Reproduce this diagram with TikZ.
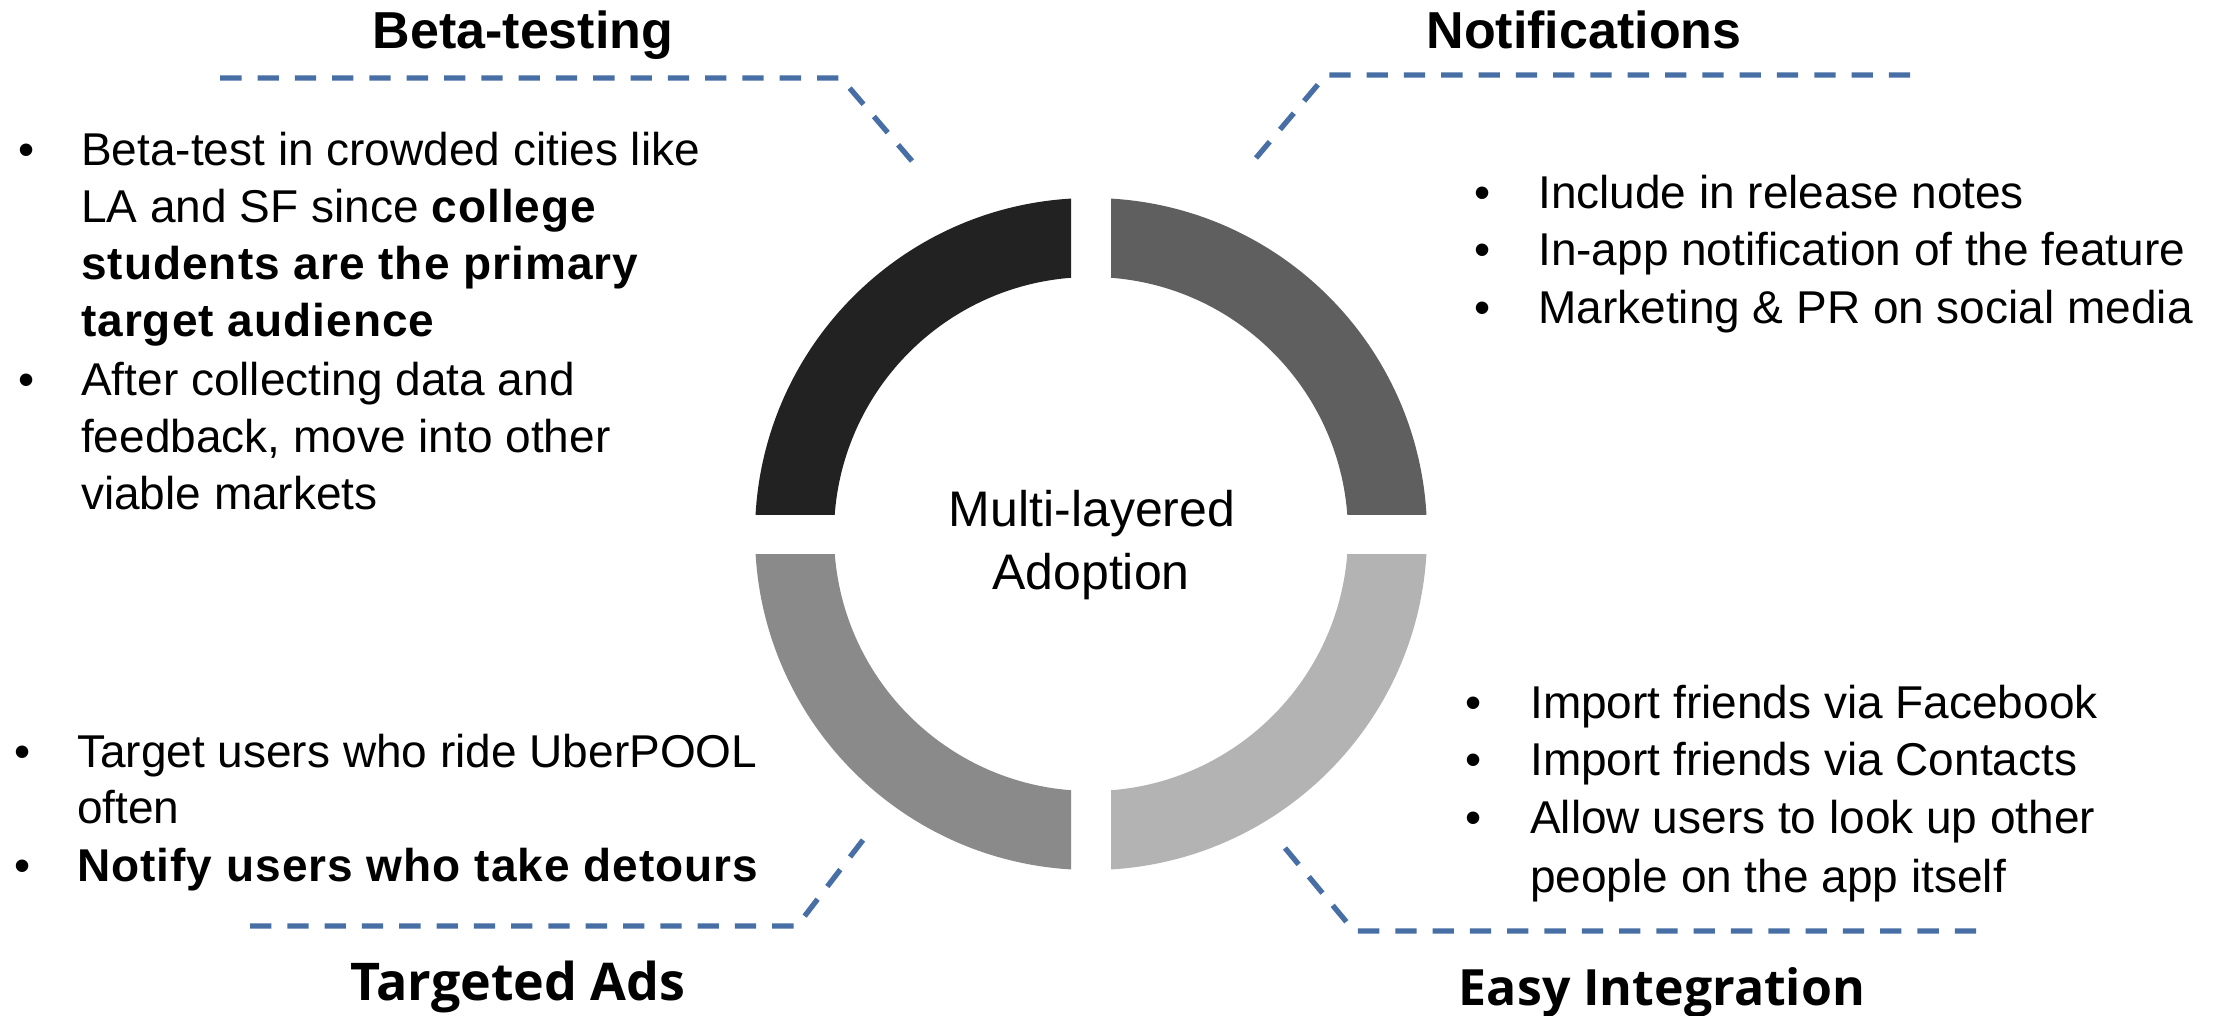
\documentclass[tikz,border=0pt]{standalone}
\usepackage{fontspec}
\setmainfont{Liberation Sans}
\newfontfamily\hdfont{Open Sans}
\newfontfamily\bsp{Liberation Sans}[LetterSpace=2.2]
\newcommand{\bt}[1]{{\bsp\bfseries #1}}
\definecolor{leadblue}{RGB}{71,111,166}
\definecolor{segA}{HTML}{222222}
\definecolor{segB}{HTML}{5F5F5F}
\definecolor{segC}{HTML}{8A8A8A}
\definecolor{segD}{HTML}{B3B3B3}
\begin{document}
\begin{tikzpicture}[x=1pt,y=-1pt,
  body/.style={anchor=base west, inner sep=0pt, font=\fontsize{46}{57}\selectfont},
  bul/.style={anchor=base, inner sep=0pt, font=\fontsize{46}{57}\selectfont},
  head/.style={anchor=base, inner sep=0pt, font=\fontsize{52}{60}\selectfont\bfseries},
  headb/.style={anchor=base, inner sep=0pt, font=\fontsize{52}{60}\selectfont\hdfont\bfseries},
  centre/.style={anchor=base, inner sep=0pt, font=\fontsize{50}{63}\selectfont},
  leader/.style={draw=leadblue, line width=5.3pt, dash pattern=on 21.3pt off 16pt},
]
\useasboundingbox (0,0) rectangle (2223,1015);
\fill[white] (0,0) rectangle (2223,1015);

% ring
\coordinate (ctr) at (1091,534);
\begin{scope}
  \clip (0,0) rectangle (1071,514);
  \fill[segA, even odd rule] (ctr) circle[radius=336] (ctr) circle[radius=257];
\end{scope}
\begin{scope}
  \clip (1111,0) rectangle (2223,514);
  \fill[segB, even odd rule] (ctr) circle[radius=336] (ctr) circle[radius=257];
\end{scope}
\begin{scope}
  \clip (0,554) rectangle (1071,1015);
  \fill[segC, even odd rule] (ctr) circle[radius=336] (ctr) circle[radius=257];
\end{scope}
\begin{scope}
  \clip (1111,554) rectangle (2223,1015);
  \fill[segD, even odd rule] (ctr) circle[radius=336] (ctr) circle[radius=257];
\end{scope}

% centre text
\node[centre] (c1) at (1092,526) {Multi-layered};
\node[centre] (c2) at (1091,589) {Adoption};

% headers
\node[head] (hbeta) at (523,48) {Beta-testing};
\node[head] (hnotif) at (1584,48) {Notifications};
\node[headb] (hads) at (518,1000) {Targeted Ads};
\node[headb, font=\fontsize{50}{60}\selectfont\hdfont\bfseries] (heasy) at (1662,1005) {Easy Integration};

% leader lines
\coordinate (b1) at (912,161); \coordinate (b2) at (841,78); \coordinate (b3) at (219,78);
\coordinate (n1) at (1256,158); \coordinate (n2) at (1326,75); \coordinate (n3) at (1924,75);
\coordinate (t1) at (863,840); \coordinate (t2) at (797,926); \coordinate (t3) at (249,926);
\coordinate (e1) at (1285,848); \coordinate (e2) at (1354,931); \coordinate (e3) at (1977,931);
\draw[leader] (b1) -- (b2) -- (b3);
\draw[leader] (n1) -- (n2) -- (n3);
\draw[leader] (t1) -- (t2) -- (t3);
\draw[leader] (e1) -- (e2) -- (e3);

% Beta-testing block
\node[bul] (bb1) at (27,165) {•};
\node[body] (bl1) at (81,165) {Beta-test in crowded cities like};
\node[body] (bl2) at (81,222) {LA and SF since \bt{college}};
\node[body] (bl3) at (81,279) {\bt{students are the primary}};
\node[body] (bl4) at (81,336) {\bt{target audience}};
\node[bul] (bb2) at (27,395) {•};
\node[body] (bl5) at (81,395) {After collecting data and};
\node[body] (bl6) at (81,452) {feedback, move into other};
\node[body] (bl7) at (81,509) {viable markets};

% Notifications block
\node[bul] (nb1) at (1483,208) {•};
\node[body] (nl1) at (1538,208) {Include in release notes};
\node[bul] (nb2) at (1483,265) {•};
\node[body] (nl2) at (1538,265) {In-app notification of the feature};
\node[bul] (nb3) at (1483,323) {•};
\node[body] (nl3) at (1538,323) {Marketing \& PR on social media};

% Targeted Ads block
\node[bul] (tb1) at (23,767) {•};
\node[body] (tl1) at (77,767) {Target users who ride UberPOOL};
\node[body] (tl2) at (77,823) {often};
\node[bul] (tb2) at (23,881) {•};
\node[body] (tl3) at (77,881) {\bt{Notify users who take detours}};

% Easy Integration block
\node[bul] (eb1) at (1474,718) {•};
\node[body] (el1) at (1530,718) {Import friends via Facebook};
\node[bul] (eb2) at (1474,775) {•};
\node[body] (el2) at (1530,775) {Import friends via Contacts};
\node[bul] (eb3) at (1474,833) {•};
\node[body] (el3) at (1530,833) {Allow users to look up other};
\node[body] (el4) at (1530,892) {people on the app itself};
\end{tikzpicture}
\end{document}
